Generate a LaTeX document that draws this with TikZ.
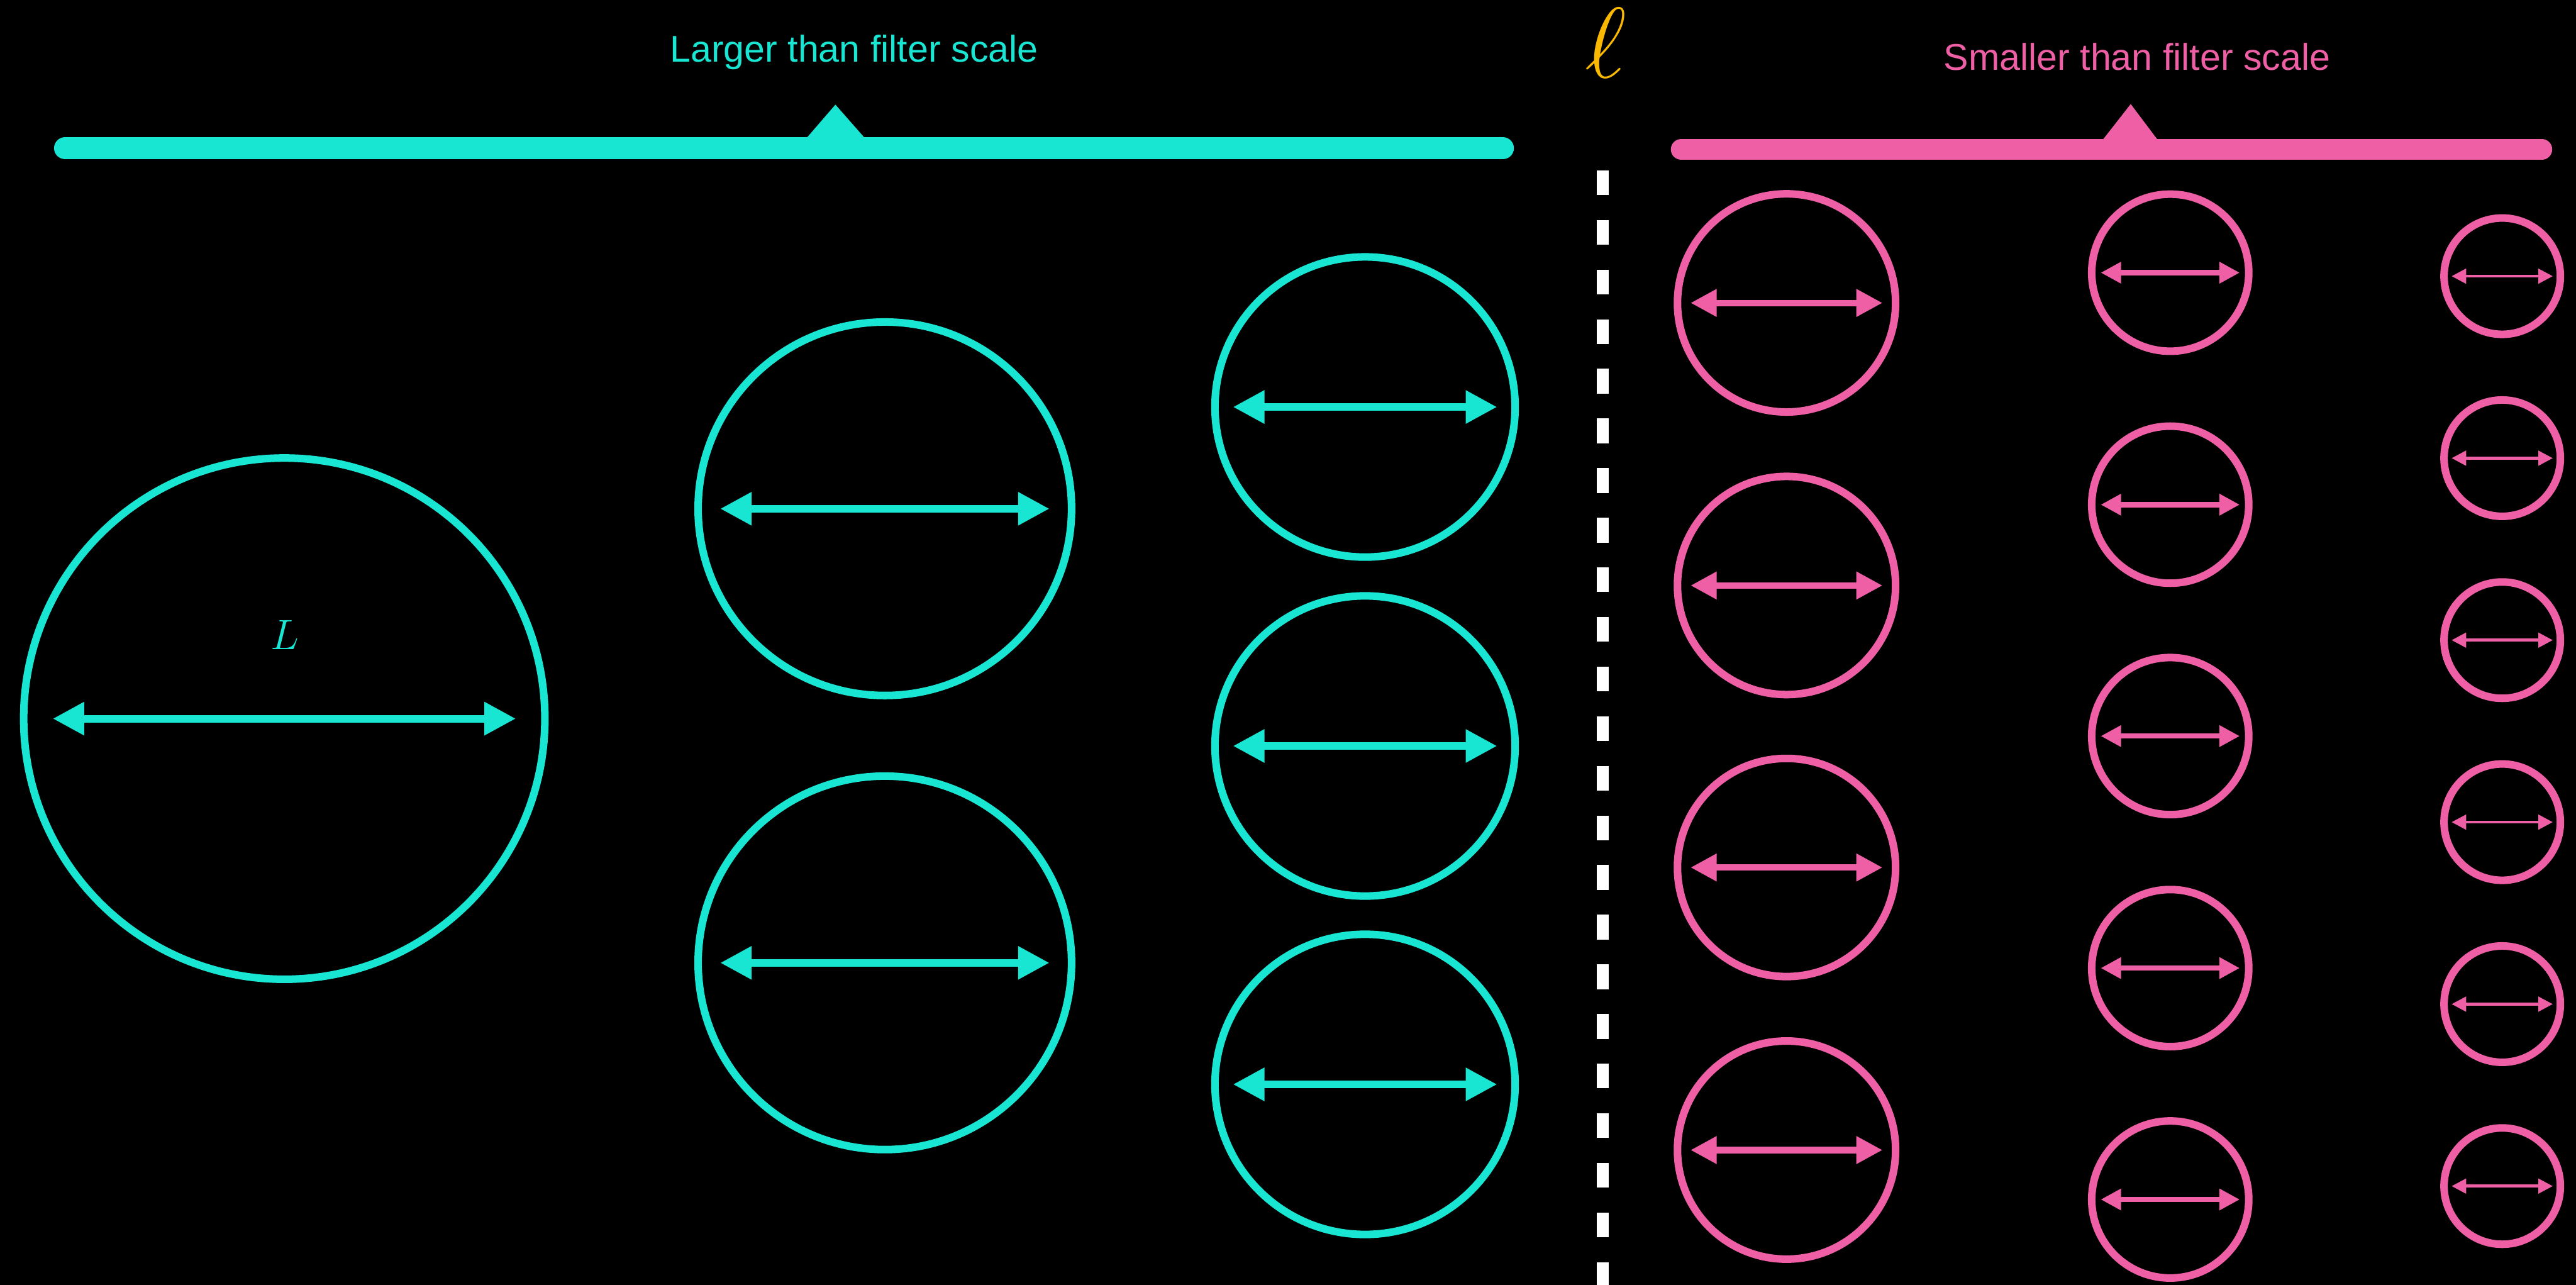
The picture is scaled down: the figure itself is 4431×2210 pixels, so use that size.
\documentclass[tikz,border=0pt]{standalone}
\usepackage{fontspec}
\usepackage{graphicx}
\setmainfont{Liberation Sans}
\usetikzlibrary{arrows.meta}
\definecolor{scalecyan}{RGB}{24,230,210}
\definecolor{scalepink}{RGB}{238,95,166}
\definecolor{filtergold}{RGB}{250,185,0}

\begin{document}
\begin{tikzpicture}[x=0.01cm,y=-0.01cm,
  ring/.style={circle,draw,line width=0.13cm,inner sep=0pt,outer sep=0pt,minimum size=#1},
  span/.style n args={3}{<->,line width=#1,>={Triangle[length=#2,width=#2]},shorten <=#3,shorten >=#3},
  caption/.style={font=\fontsize{18.2}{20}\selectfont,anchor=base}]
  % background and frame
  \fill[black] (0,0) rectangle (4431,2210);
  \useasboundingbox (0,0) rectangle (4431,2210);

  % scale bars with their markers
  \draw[scalecyan,line width=0.38cm,line cap=round] (112,255) -- (2585,255);
  \fill[scalecyan] (1380,246) -- (1437,180) -- (1495,246) -- cycle;
  \draw[scalepink,line width=0.36cm,line cap=round] (2892,257) -- (4372,257);
  \fill[scalepink] (3611,248) -- (3665,179) -- (3717,248) -- cycle;
  \node[caption,scalecyan] (large) at (1469,107) {Larger than filter scale};
  \node[caption,scalepink] (small) at (3676,121) {Smaller than filter scale};

  % filter scale and divider
  \node[filtergold,font=\fontsize{24.88}{26}\selectfont,anchor=base,inner sep=0pt] (ell) at (2762,134) {\scalebox{1.97}{$\ell$}};
  \coordinate (divtop) at (2757,293);
  \coordinate (divbot) at (2757,2210);
  \draw[white,line width=0.21cm,dash pattern=on 0.426cm off 0.427cm] (divtop) -- (divbot);

  % large eddies
  \node[ring=8.96cm,scalecyan] (big) at (489,1236) {};
  \draw[span={0.13cm}{0.54cm}{0.50cm},scalecyan] (big.west) -- (big.east);
  \node[scalecyan,font=\fontsize{20.8}{22}\selectfont,anchor=base] (lbl) at (490,1117) {$L$};
  \foreach \i/\y in {1/875,2/1656}{
    \node[ring=6.42cm,scalecyan] (m\i) at (1522,\y) {};
    \draw[span={0.13cm}{0.54cm}{0.38cm},scalecyan] (m\i.west) -- (m\i.east);
  }
  \foreach \i/\y in {1/700,2/1283,3/1865}{
    \node[ring=5.16cm,scalecyan] (s\i) at (2348,\y) {};
    \draw[span={0.13cm}{0.54cm}{0.31cm},scalecyan] (s\i.west) -- (s\i.east);
  }

  % small eddies
  \foreach \i/\y in {1/521,2/1007,3/1492,4/1978}{
    \node[ring=3.75cm,scalepink] (p\i) at (3073,\y) {};
    \draw[span={0.11cm}{0.45cm}{0.225cm},scalepink] (p\i.west) -- (p\i.east);
  }
  \foreach \i/\y in {1/469,2/868,3/1266,4/1665,5/2063}{
    \node[ring=2.70cm,scalepink] (q\i) at (3733,\y) {};
    \draw[span={0.09cm}{0.35cm}{0.155cm},scalepink] (q\i.west) -- (q\i.east);
  }
  \foreach \i/\y in {1/475,2/788,3/1101,4/1414,5/1727,6/2040}{
    \node[ring=2.00cm,scalepink] (r\i) at (4304,\y) {};
    \draw[span={0.05cm}{0.25cm}{0.13cm},scalepink] (r\i.west) -- (r\i.east);
  }
\end{tikzpicture}
\end{document}
